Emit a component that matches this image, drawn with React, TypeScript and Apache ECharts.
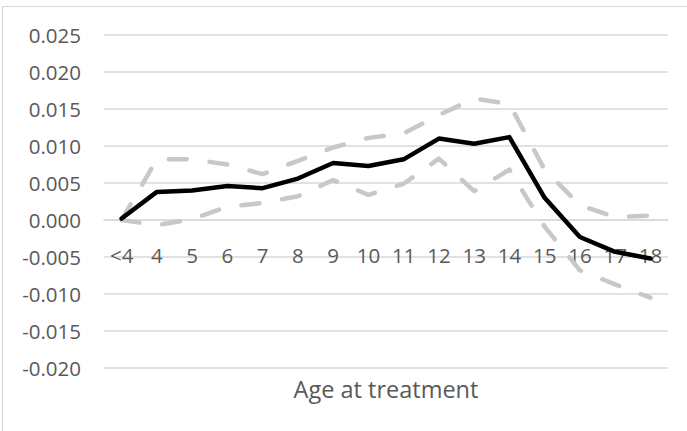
import React, { useEffect, useRef } from "react";
import * as echarts from "echarts";

const categories = ["<4", "4", "5", "6", "7", "8", "9", "10", "11", "12", "13", "14", "15", "16", "17", "18"];
const estimate = [0.0002, 0.0038, 0.004, 0.0046, 0.0043, 0.0056, 0.0077, 0.0073, 0.0082, 0.011, 0.0103, 0.0112, 0.003, -0.0023, -0.0043, -0.0052];
const upper = [0, 0.0082, 0.0082, 0.0075, 0.0062, 0.008, 0.0098, 0.0111, 0.0117, 0.0142, 0.0164, 0.0157, 0.0068, 0.002, 0.0004, 0.0006];
const lower = [0, -0.0007, 0.0001, 0.0018, 0.0023, 0.0032, 0.0054, 0.0034, 0.0049, 0.0083, 0.0039, 0.0068, -0.0009, -0.0068, -0.0087, -0.0105];
const axisTitle = "Age at treatment";

const FONT = "'Open Sans', 'Noto Sans', sans-serif";
const GRID = "#d9d9d9";
const TEXT = "#595959";

export default function App() {
  const ref = useRef<HTMLDivElement>(null);
  useEffect(() => {
    if (!ref.current) return;
    const chart = echarts.init(ref.current, null, { renderer: "svg" });
    const dashed = (name: string, data: number[]) => ({
      name,
      type: "line",
      data,
      symbol: "none",
      lineStyle: { color: "#c8c8c8", width: 4.5, type: [18, 23], cap: "round", join: "round" },
      z: 2,
    });
    chart.setOption({
      animation: false,
      backgroundColor: "#ffffff",
      textStyle: { fontFamily: FONT },
      grid: { left: 104, right: 19, top: 35, bottom: 63, containLabel: false },
      xAxis: {
        type: "category",
        data: categories,
        boundaryGap: true,
        position: "bottom",
        offset: -148,
        axisTick: { show: false },
        axisLine: { show: true, onZero: false, lineStyle: { color: GRID, width: 1.5 } },
        axisLabel: { color: TEXT, fontSize: 20.5, fontFamily: FONT, margin: 24, interval: 0 },
        splitLine: { show: false },
      },
      yAxis: {
        type: "value",
        min: -0.02,
        max: 0.025,
        interval: 0.005,
        axisLine: { show: false },
        axisTick: { show: false },
        axisLabel: {
          color: TEXT,
          fontSize: 20.5,
          fontFamily: FONT,
          margin: 23,
          formatter: (v: number) => (Math.abs(v) < 1e-9 ? "0.000" : v.toFixed(3)),
        },
        splitLine: { show: true, lineStyle: { color: GRID, width: 1.5 } },
      },
      graphic: [
        {
          type: "rect",
          shape: { x: 2.5, y: 6.5, width: 720, height: 460 },
          style: { fill: "none", stroke: GRID, lineWidth: 1.2 },
          silent: true,
          z: -10,
        },
        {
          type: "text",
          x: 386,
          y: 389,
          style: {
            text: axisTitle,
            fill: TEXT,
            font: `23.5px ${FONT}`,
            align: "center",
            verticalAlign: "middle",
          },
        },
      ],
      series: [
        dashed("Upper bound", upper),
        dashed("Lower bound", lower),
        {
          name: "Estimate",
          type: "line",
          data: estimate,
          symbol: "none",
          lineStyle: { color: "#000000", width: 4.5, cap: "round", join: "round" },
          z: 3,
        },
      ],
    });
    return () => chart.dispose();
  }, []);
  return (
    <div
      ref={ref}
      style={{ position: "fixed", left: 0, top: 0, width: 687, height: 431, background: "#fff" }}
    />
  );
}
